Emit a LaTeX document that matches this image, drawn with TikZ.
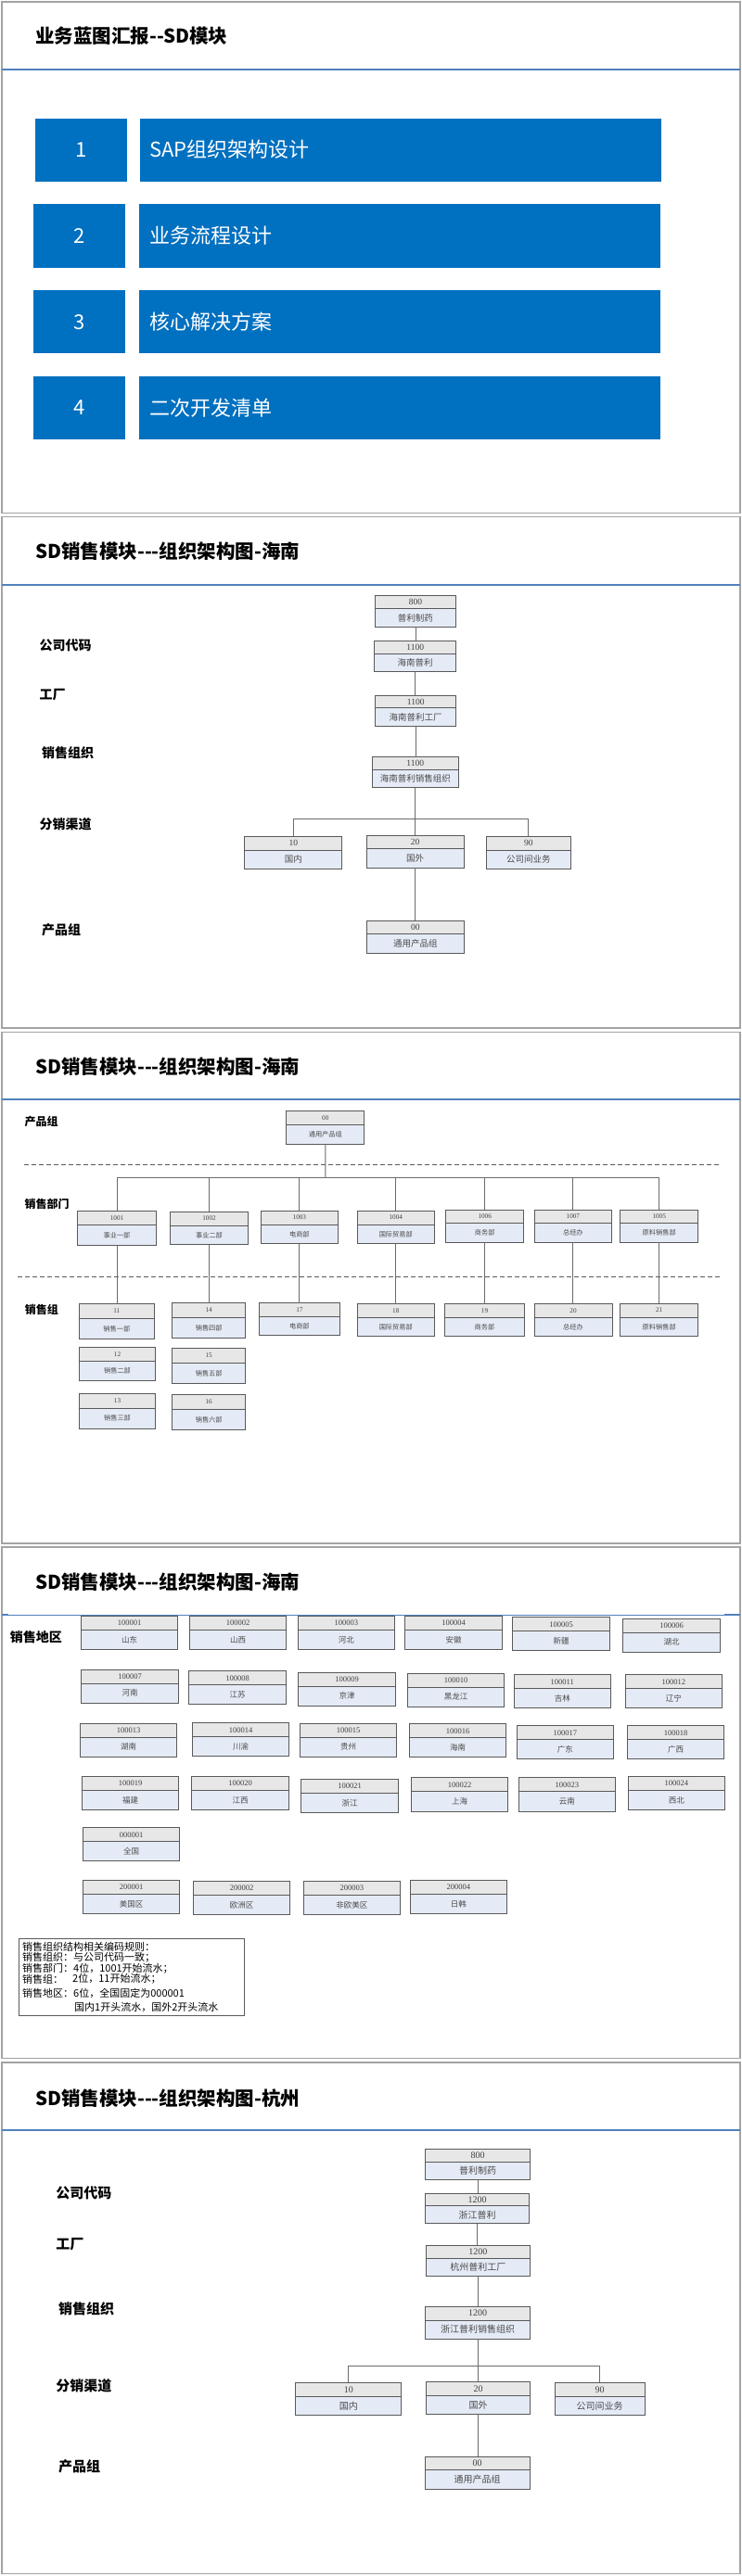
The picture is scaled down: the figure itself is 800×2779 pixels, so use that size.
\documentclass[tikz,border=0pt]{standalone}
\usepackage{fontspec}
\setmainfont{Liberation Serif}
\newfontfamily\cjk{Noto Sans CJK SC}
\newfontfamily\numfont{Liberation Serif}
\usetikzlibrary{calc}
\definecolor{framec}{HTML}{A3A3A3}
\definecolor{bluel}{HTML}{4F81BD}
\definecolor{itemblue}{HTML}{0070C0}
\definecolor{hdrc}{HTML}{E7E7E7}
\definecolor{bodyc}{HTML}{E5EBF6}
\definecolor{boxc}{HTML}{595959}
\definecolor{connc}{HTML}{6B6B6B}
\definecolor{hdrtext}{HTML}{404040}
\definecolor{bodytext}{HTML}{4A4A4A}
\definecolor{dashc}{HTML}{595959}
\tikzset{
  conn/.style={draw=connc, line width=0.9pt},
  boxedge/.style={draw=boxc, line width=1pt},
  dashline/.style={draw=dashc, line width=0.9pt, dash pattern=on 5pt off 3pt},
  frame/.style={draw=framec, line width=1.5pt},
  titletext/.style={anchor=west, inner sep=0pt, font=\cjk\bfseries\fontsize{20.5}{20.5}\selectfont},
  lbl/.style={anchor=west, inner sep=0pt, font=\cjk\bfseries\fontsize{#1}{#1}\selectfont},
  bluebox/.style={fill=itemblue, inner sep=0pt, text=white, font=\cjk\fontsize{22}{22}\selectfont},
  itemtext/.style={anchor=west, inner sep=0pt, text=white, font=\cjk\fontsize{22}{22}\selectfont},
  ruletext/.style={anchor=west, inner sep=0pt, font=\cjk\fontsize{11}{11}\selectfont}
}
% name, x, y (top-left), w, h, header, body, font size
\newcommand\obox[8]{%
  \pgfmathsetmacro\obhh{0.42*#5}%
  \pgfmathsetmacro\obhc{0.21*#5}%
  \pgfmathsetmacro\obbc{0.71*#5}%
  \node[fill=bodyc, minimum width=#4pt, minimum height=#5pt, inner sep=0pt, outer sep=0pt] (#1) at ({#2+#4/2},{#3+#5/2}) {};
  \fill[hdrc] (#1.north west) rectangle ([yshift=-\obhh pt]#1.north east);
  \draw[boxedge] ([yshift=-\obhh pt]#1.north west) -- ([yshift=-\obhh pt]#1.north east);
  \draw[boxedge] (#1.north west) rectangle (#1.south east);
  \node[inner sep=0pt, text=hdrtext, font=\numfont\fontsize{#8}{#8}\selectfont] (#1h) at ([yshift=-\obhc pt]#1.north) {#6};
  \node[inner sep=0pt, text=bodytext, font=\cjk\fontsize{#8}{#8}\selectfont] (#1b) at ([yshift=-\obbc pt]#1.north) {#7};
}
\begin{document}
\begin{tikzpicture}[x=1pt,y=-1pt]
\useasboundingbox (0,0) rectangle (800,2779);
\fill[white] (0,0) rectangle (800,2779);

% ---------- slide frames and header lines ----------
\foreach \i in {0,...,4} {
  \draw[frame] (2,{2+555.7*\i}) rectangle (798,{553.5+555.7*\i});
}
\foreach \i in {0,1,2,4} {
  \draw[draw=bluel, line width=2pt] (2,{75+555.7*\i}) -- (798,{75+555.7*\i});
}
\draw[draw=bluel, line width=0.8pt] (2,1742.3) -- (798,1742.3);
\draw[draw=bluel, line width=2pt] (2,1742.3) -- (9,1742.3);
\draw[draw=bluel, line width=2pt] (781,1742.3) -- (798,1742.3);

% ---------- slide 1 ----------
\node[titletext] (title1) at (38,39) {业务蓝图汇报--SD模块};
\node[bluebox, minimum width=99pt, minimum height=68.2pt] (n1) at (87.5,161.6) {1};
\node[bluebox, minimum width=562pt, minimum height=68.2pt] (b1) at (431.5,161.6) {};
\node[itemtext] (b1t) at (161,161.6) {SAP组织架构设计};
\node[bluebox, minimum width=99pt, minimum height=68.2pt] (n2) at (85.5,254.5) {2};
\node[bluebox, minimum width=562pt, minimum height=68.2pt] (b2) at (430.5,254.5) {};
\node[itemtext] (b2t) at (161,254.5) {业务流程设计};
\node[bluebox, minimum width=99pt, minimum height=68.2pt] (n3) at (85.5,347.3) {3};
\node[bluebox, minimum width=562pt, minimum height=68.2pt] (b3) at (430.5,347.3) {};
\node[itemtext] (b3t) at (161,347.3) {核心解决方案};
\node[bluebox, minimum width=99pt, minimum height=68.2pt] (n4) at (85.5,439.9) {4};
\node[bluebox, minimum width=562pt, minimum height=68.2pt] (b4) at (430.5,439.9) {};
\node[itemtext] (b4t) at (161,439.9) {二次开发清单};

% ---------- slide 2 ----------
\node[titletext] (title2) at (38,595) {SD销售模块---组织架构图-海南};
\node[lbl=14] (l2a) at (42.3,696.2) {公司代码};
\node[lbl=14] (l2b) at (42.3,749.3) {工厂};
\node[lbl=14] (l2c) at (45,811.8) {销售组织};
\node[lbl=14] (l2d) at (42.3,889.3) {分销渠道};
\node[lbl=14] (l2e) at (45,1003.5) {产品组};
\obox{s2a}{404.6}{642.7}{86.7}{33.5}{800}{普利制药}{9.5}
\obox{s2b}{403.6}{691.8}{88.2}{33}{1100}{海南普利}{9.5}
\obox{s2c}{404.6}{750}{87.2}{33}{1100}{海南普利工厂}{9.5}
\obox{s2d}{401.5}{816.9}{92.5}{33}{1100}{海南普利销售组织}{9.5}
\obox{s2e}{263.8}{902.4}{105.1}{35}{10}{国内}{9.5}
\obox{s2f}{395.4}{901}{104.6}{35.2}{20}{国外}{9.5}
\obox{s2g}{524.5}{902.4}{90.8}{35}{90}{公司间业务}{9.5}
\obox{s2h}{395.4}{993}{105.1}{35.2}{00}{通用产品组}{9.5}
\coordinate (s2bus) at (448,883.8);
\draw[conn] (s2a.south) -- (s2a.south |- s2b.north);
\draw[conn] (s2b.south) -- (s2b.south |- s2c.north);
\draw[conn] (s2c.south) -- (s2c.south |- s2d.north);
\draw[conn] (s2d.south) -- (s2d.south |- s2f.north);
\draw[conn] (s2e.north) |- (s2bus) -| (s2g.north);
\draw[conn] (s2f.south) -- (s2f.south |- s2h.north);

% ---------- slide 3 ----------
\node[titletext] (title3) at (38,1150.5) {SD销售模块---组织架构图-海南};
\node[lbl=12] (l3a) at (26.5,1209.6) {产品组};
\node[lbl=12] (l3b) at (26.5,1299) {销售部门};
\node[lbl=12] (l3c) at (26.7,1413.3) {销售组};
\draw[dashline] (25.5,1256) -- (775.5,1256);
\draw[dashline] (19.3,1377.7) -- (776,1377.7);
\obox{s3top}{308.7}{1198.6}{84.2}{35.7}{00}{通用产品组}{7.2}
\obox{d1}{83.7}{1306.7}{84.6}{36.3}{1001}{事业一部}{7.2}
\obox{d2}{183.7}{1307}{83.6}{35.7}{1002}{事业二部}{7.2}
\obox{d3}{281}{1306}{83.7}{35.7}{1003}{电商部}{7.2}
\obox{d4}{385}{1306}{83.5}{35.7}{1004}{国际贸易部}{7.2}
\obox{d5}{480.7}{1305}{84}{35}{1006}{商务部}{7.2}
\obox{d6}{576}{1305}{83.7}{35}{1007}{总经办}{7.2}
\obox{d7}{668.7}{1305}{84}{35}{1005}{原料销售部}{7.2}
\obox{g11}{85.3}{1406.7}{81}{37.6}{11}{销售一部}{7.2}
\obox{g14}{185.7}{1405.7}{79}{37.6}{14}{销售四部}{7.2}
\obox{g17}{279.7}{1405.7}{86.3}{35}{17}{电商部}{7.2}
\obox{g18}{385}{1406.7}{83.5}{35}{18}{国际贸易部}{7.2}
\obox{g19}{479.3}{1406.7}{86.4}{35}{19}{商务部}{7.2}
\obox{g20}{576}{1406.7}{84}{35}{20}{总经办}{7.2}
\obox{g21}{668.7}{1406}{84}{35.7}{21}{原料销售部}{7.2}
\obox{g12}{85.7}{1453}{81.6}{36.7}{12}{销售二部}{7.2}
\obox{g15}{185.7}{1454.3}{79}{38}{15}{销售五部}{7.2}
\obox{g13}{85.7}{1503.7}{81.6}{37.3}{13}{销售三部}{7.2}
\obox{g16}{185.7}{1504.7}{79}{37.6}{16}{销售六部}{7.2}
\coordinate (s3bus) at (350.8,1270.4);
\draw[conn] (s3top.south) -- (s3bus);
\draw[conn] (d1.north) |- (s3bus) -| (d7.north);
\foreach \d in {d2,d3,d4,d5,d6} {
  \draw[conn] (\d.north) -- (\d.north |- s3bus);
}
\draw[conn] (d1.south) -- (d1.south |- g11.north);
\draw[conn] (d2.south) -- (d2.south |- g14.north);
\draw[conn] (d3.south) -- (d3.south |- g17.north);
\draw[conn] (d4.south) -- (d4.south |- g18.north);
\draw[conn] (d5.south) -- (d5.south |- g19.north);
\draw[conn] (d6.south) -- (d6.south |- g20.north);
\draw[conn] (d7.south) -- (d7.south |- g21.north);

% ---------- slide 4 ----------
\node[titletext] (title4) at (38,1706.5) {SD销售模块---组织架构图-海南};
\node[lbl=14] (l4a) at (10.7,1766) {销售地区};
\obox{r01}{87.3}{1743.3}{104.6}{36}{100001}{山东}{8.5}
\obox{r02}{204.3}{1743.3}{104.6}{36}{100002}{山西}{8.5}
\obox{r03}{321}{1743.3}{104.6}{36}{100003}{河北}{8.5}
\obox{r04}{436.7}{1743.3}{104.6}{36}{100004}{安徽}{8.5}
\obox{r05}{552.7}{1744.7}{104.6}{36}{100005}{新疆}{8.5}
\obox{r06}{671.7}{1746}{104.6}{36}{100006}{湖北}{8.5}
\obox{r07}{87.7}{1801}{104.6}{36}{100007}{河南}{8.5}
\obox{r08}{203.7}{1802.7}{104.6}{36}{100008}{江苏}{8.5}
\obox{r09}{321.7}{1804}{104.6}{36}{100009}{京津}{8.5}
\obox{r10}{439.3}{1805}{104.6}{36}{100010}{黑龙江}{8.5}
\obox{r11}{554}{1806.7}{104.6}{36}{100011}{吉林}{8.5}
\obox{r12}{674}{1806.7}{104.6}{36}{100012}{辽宁}{8.5}
\obox{r13}{86.3}{1859}{104.6}{36}{100013}{湖南}{8.5}
\obox{r14}{207.3}{1858.7}{104.6}{36}{100014}{川渝}{8.5}
\obox{r15}{323.3}{1859}{104.6}{36}{100015}{贵州}{8.5}
\obox{r16}{441.3}{1859.7}{104.6}{36}{100016}{海南}{8.5}
\obox{r17}{557}{1861.7}{104.6}{36}{100017}{广东}{8.5}
\obox{r18}{676.3}{1861.7}{104.6}{36}{100018}{广西}{8.5}
\obox{r19}{88.3}{1916.3}{104.6}{36.4}{100019}{福建}{8.5}
\obox{r20}{206.7}{1916.3}{104.6}{36.4}{100020}{江西}{8.5}
\obox{r21}{324.7}{1919.3}{104.6}{36}{100021}{浙江}{8.5}
\obox{r22}{443.3}{1917.7}{104.6}{36.3}{100022}{上海}{8.5}
\obox{r23}{559}{1917.7}{104.6}{36.3}{100023}{云南}{8.5}
\obox{r24}{677}{1916.3}{104.6}{36.4}{100024}{西北}{8.5}
\obox{r25}{89.3}{1971.7}{104.6}{36}{000001}{全国}{8.5}
\obox{r26}{89.3}{2028.3}{104.6}{36}{200001}{美国区}{8.5}
\obox{r27}{208.3}{2029.3}{104.6}{36.4}{200002}{欧洲区}{8.5}
\obox{r28}{327}{2029.3}{104.6}{36.4}{200003}{非欧美区}{8.5}
\obox{r29}{442}{2028}{104.6}{36.3}{200004}{日韩}{8.5}
\node[draw=boxc, line width=0.8pt, minimum width=243.3pt, minimum height=83pt, inner sep=0pt] (rules) at (141.65,2132.5) {};
\node[ruletext] (ru1) at (24,2100) {销售组织结构相关编码规则：};
\node[ruletext] (ru2) at (24,2112) {销售组织：与公司代码一致；};
\node[ruletext] (ru3) at (24,2123.5) {销售部门：4位，1001开始流水；};
\node[ruletext] (ru4a) at (24,2135) {销售组：};
\node[ruletext] (ru4b) at (78,2135) {2位，11开始流水；};
\node[ruletext] (ru5) at (24,2150) {销售地区：6位，全国固定为000001};
\node[ruletext] (ru6) at (80,2165) {国内1开头流水，国外2开头流水};

% ---------- slide 5 ----------
\node[titletext] (title5) at (38,2263.5) {SD销售模块---组织架构图-杭州};
\node[lbl=15] (l5a) at (60.2,2366) {公司代码};
\node[lbl=15] (l5b) at (60.2,2421.5) {工厂};
\node[lbl=15] (l5c) at (62.8,2491) {销售组织};
\node[lbl=15] (l5d) at (60.2,2574) {分销渠道};
\node[lbl=15] (l5e) at (62.8,2661) {产品组};
\obox{t1}{458.7}{2318.3}{112.6}{32.7}{800}{普利制药}{10}
\obox{t2}{458.3}{2366}{112.4}{32.7}{1200}{浙江普利}{10}
\obox{t3}{459.3}{2422.3}{112}{32.7}{1200}{杭州普利工厂}{10}
\obox{t4}{458.3}{2488.3}{113.4}{35}{1200}{浙江普利销售组织}{10}
\obox{t5}{318.9}{2570.4}{113.8}{35.3}{10}{国内}{10}
\obox{t6}{459.7}{2569.4}{111.7}{35}{20}{国外}{10}
\obox{t7}{598}{2570.4}{97.4}{35.3}{90}{公司间业务}{10}
\obox{t8}{458}{2650}{113.4}{35}{00}{通用产品组}{10}
\coordinate (s5bus) at (515,2552.3);
\draw[conn] (t1.south) -- (t1.south |- t2.north);
\draw[conn] (t2.south) -- (t2.south |- t3.north);
\draw[conn] (t3.south) -- (t3.south |- t4.north);
\draw[conn] (t4.south) -- (t4.south |- t6.north);
\draw[conn] (t5.north) |- (s5bus) -| (t7.north);
\draw[conn] (t6.south) -- (t6.south |- t8.north);
\end{tikzpicture}
\end{document}
